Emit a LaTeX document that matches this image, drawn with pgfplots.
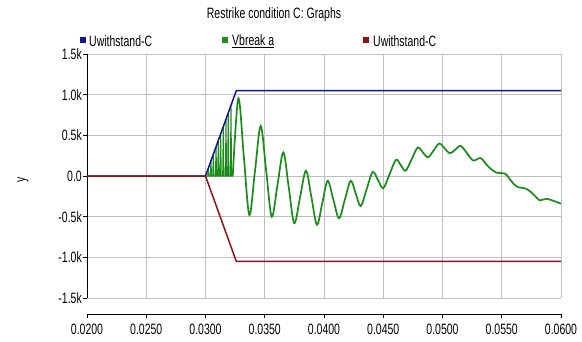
\documentclass[border=0pt]{standalone}
\usepackage{fontspec}
\newfontfamily\nf{Liberation Sans}[FakeStretch=0.7]
\usepackage{pgfplots}
\pgfplotsset{compat=1.18}
\definecolor{cblue}{RGB}{20,20,140}
\definecolor{cgreen}{RGB}{25,140,25}
\definecolor{cred}{RGB}{140,20,20}
\newcommand{\lf}{\nf\fontsize{15}{18}\selectfont}
\begin{document}
\begin{tikzpicture}
\path[use as bounding box] (-87pt,-43pt) rectangle (495pt,298pt);
\begin{axis}[
  scale only axis, width=474pt, height=244pt, at={(0,0)}, anchor=south west,
  xmin=0.02, xmax=0.06, ymin=-1500, ymax=1500,
  scaled x ticks=false, scaled y ticks=false,
  xtick={0.02,0.025,0.03,0.035,0.04,0.045,0.05,0.055,0.06},
  xticklabels={},
  ytick={-1500,-1000,-500,0,500,1000,1500},
  yticklabels={-1.5k,-1.0k,-0.5k,0.0,0.5k,1.0k,1.5k},
  axis y line*=left, axis x line*=bottom,
  x axis line style={draw=none}, xtick style={draw=none},
  y axis line style={black, line width=0.9pt, -},
  ytick style={black, line width=0.9pt},
  tick align=outside, major tick length=4pt,
  grid=major, major grid style={color=gray!50, line width=0.9pt},
  yticklabel style={font=\lf, inner sep=1pt},
]
% Vbreak a: fast spikes
\addplot[cgreen, line width=1pt] coordinates {
(0.03000,0) (0.03019,0) (0.03024,97) (0.03029,0)
(0.03041,0) (0.03046,186) (0.03051,0)
(0.03061,0) (0.03066,267) (0.03071,0)
(0.03084,0) (0.03089,359) (0.03094,0)
(0.03103,0) (0.03108,436) (0.03113,0)
(0.03123,0) (0.03128,517) (0.03133,0)
(0.03145,0) (0.03150,606) (0.03155,0)
(0.03168,0) (0.03173,698) (0.03178,0)
(0.03187,0) (0.03192,775) (0.03197,0)
(0.03210,0) (0.03215,868) (0.03220,0)
(0.03230,0)
};
% Vbreak a: oscillation
\addplot[cgreen, line width=1.7pt, smooth, tension=0.55] coordinates {
(0.03230,0) (0.03277,955) (0.033235,237) (0.03370,-480) (0.03418,67)
(0.03466,615) (0.035125,57) (0.03559,-500) (0.03608,-105) (0.03657,290)
(0.03703,-145) (0.03749,-580) (0.037985,-257) (0.03848,65) (0.038945,-267)
(0.03941,-600) (0.03986,-330) (0.04031,-60) (0.04079,-290) (0.04127,-520)
(0.04176,-290) (0.04225,-60) (0.042675,-215) (0.04310,-370) (0.043605,-160)
(0.04411,50) (0.044555,-50) (0.04500,-150) (0.04554,25) (0.04608,200)
(0.046485,132) (0.04689,65) (0.0474,207) (0.04791,350) (0.048345,290)
(0.04878,230) (0.049255,315) (0.04973,400) (0.05018,340) (0.05063,280)
(0.051085,325) (0.05154,370) (0.05207,280) (0.05260,190) (0.05322,220)
(0.05387,115) (0.05457,40) (0.05527,30) (0.05580,-60) (0.05626,-130)
(0.05711,-160) (0.05770,-230) (0.05823,-300) (0.05879,-280) (0.06000,-340)
};
% Uwithstand-C (positive)
\addplot[cblue, line width=1.5pt] coordinates {
(0.020,0) (0.030,0) (0.0326,1050) (0.060,1050)
};
% Uwithstand-C (negative)
\addplot[cred, line width=1.5pt] coordinates {
(0.020,0) (0.030,0) (0.0326,-1050) (0.060,-1050)
};
\end{axis}
\begin{axis}[
  scale only axis, width=474pt, height=10pt, at={(0,-16pt)}, anchor=south west,
  xmin=0.02, xmax=0.06, ymin=0, ymax=1,
  scaled x ticks=false,
  axis x line*=bottom, axis y line=none,
  xtick={0.02,0.025,0.03,0.035,0.04,0.045,0.05,0.055,0.06},
  xticklabels={0.0200,0.0250,0.0300,0.0350,0.0400,0.0450,0.0500,0.0550,0.0600},
  x axis line style={black, line width=0.9pt, -},
  xtick style={black, line width=0.9pt},
  tick align=outside, major tick length=4pt,
  xticklabel style={font=\lf, inner sep=1pt, yshift=-5pt},
]
\end{axis}
\node[font=\lf] at (187pt,283pt) {Restrike condition C: Graphs};
\fill[cblue] (-7pt,255pt) rectangle (-1pt,261pt);
\node[font=\lf, anchor=west, inner sep=0pt] at (2pt,257pt) {Uwithstand-C};
\fill[cgreen] (135pt,255pt) rectangle (141pt,261pt);
\node[font=\lf, anchor=west, inner sep=0pt] at (145pt,257pt) {\underline{Vbreak a}};
\fill[cred] (276pt,255pt) rectangle (282pt,261pt);
\node[font=\lf, anchor=west, inner sep=0pt] at (286pt,257pt) {Uwithstand-C};
\node[font=\lf, rotate=90] at (-64pt,118pt) {y};
\end{tikzpicture}
\end{document}
